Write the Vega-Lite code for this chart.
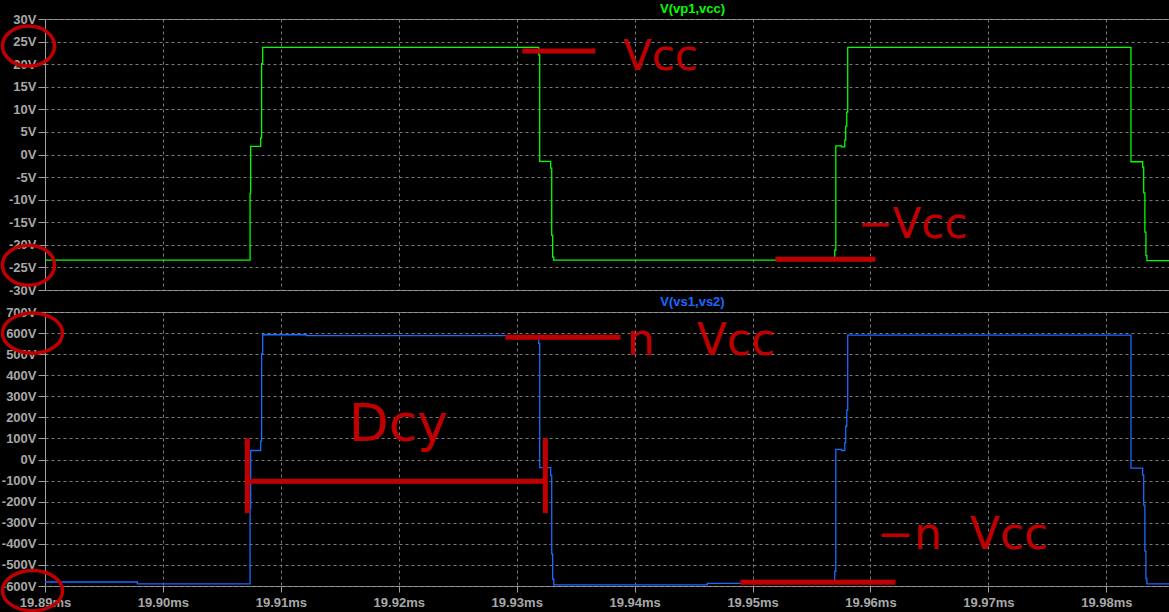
{
  "$schema": "https://vega.github.io/schema/vega-lite/v6.json",
  "background": "#000000",
  "padding": {"left": 0, "top": 2, "right": 0, "bottom": 0},
  "config": {
    "view": {"stroke": "#a0a0a0", "strokeWidth": 1},
    "axis": {
      "labelColor": "#a8a8a8",
      "labelFont": "Liberation Sans",
      "labelFontWeight": "bold",
      "labelFontSize": 13,
      "tickColor": "#a0a0a0",
      "domainColor": "#a0a0a0",
      "gridColor": "#7a7a7a",
      "gridDash": [3, 3],
      "gridWidth": 1,
      "title": null,
      "labelOverlap": false,
      "labelFlush": false
    },
    "title": {"font": "Liberation Sans", "fontSize": 13, "fontWeight": "bold", "anchor": "middle", "frame": "group"}
  },
  "datasets": {
    "vp": [
      {"t": 19.89, "v": -23.4},
      {"t": 19.90739, "v": -8.6},
      {"t": 19.90744, "v": 1.8},
      {"t": 19.90829, "v": 3.7},
      {"t": 19.90837, "v": 20.1},
      {"t": 19.90846, "v": 23.7},
      {"t": 19.93187, "v": 22.0},
      {"t": 19.93195, "v": -1.5},
      {"t": 19.93288, "v": -3.0},
      {"t": 19.93297, "v": -17.9},
      {"t": 19.93305, "v": -22.7},
      {"t": 19.93314, "v": -23.4},
      {"t": 19.95697, "v": -21.2},
      {"t": 19.95706, "v": 1.9},
      {"t": 19.95754, "v": 1.7},
      {"t": 19.95782, "v": 3.2},
      {"t": 19.9579, "v": 6.3},
      {"t": 19.95799, "v": 9.4},
      {"t": 19.95807, "v": 23.7},
      {"t": 19.98209, "v": -1.6},
      {"t": 19.98308, "v": -2.8},
      {"t": 19.98317, "v": -8.5},
      {"t": 19.98327, "v": -17.2},
      {"t": 19.98336, "v": -22.4},
      {"t": 19.98344, "v": -23.5},
      {"t": 19.9854, "v": -23.5}
    ],
    "vs": [
      {"t": 19.89, "v": -581},
      {"t": 19.89783, "v": -590},
      {"t": 19.90739, "v": -230},
      {"t": 19.90744, "v": 43},
      {"t": 19.90829, "v": 87},
      {"t": 19.90837, "v": 502},
      {"t": 19.90846, "v": 592},
      {"t": 19.91216, "v": 588},
      {"t": 19.93187, "v": 550},
      {"t": 19.93195, "v": -38},
      {"t": 19.93288, "v": -75},
      {"t": 19.93297, "v": -448},
      {"t": 19.93305, "v": -568},
      {"t": 19.93314, "v": -595},
      {"t": 19.94617, "v": -588},
      {"t": 19.95697, "v": -530},
      {"t": 19.95706, "v": 48},
      {"t": 19.95754, "v": 43},
      {"t": 19.95782, "v": 80},
      {"t": 19.9579, "v": 158},
      {"t": 19.95799, "v": 235},
      {"t": 19.95807, "v": 590},
      {"t": 19.98209, "v": -41},
      {"t": 19.98308, "v": -74},
      {"t": 19.98317, "v": -216},
      {"t": 19.98327, "v": -435},
      {"t": 19.98336, "v": -565},
      {"t": 19.98344, "v": -590},
      {"t": 19.9854, "v": -590}
    ],
    "ellTop": [
      {"t": 19.888601, "v": 24.0},
      {"t": 19.888601, "v": -24.5}
    ],
    "ellBot": [
      {"t": 19.88894, "v": 600},
      {"t": 19.88894, "v": -622}
    ],
    "hTop": [
      {"t": 19.93048, "t2": 19.93667, "v": 22.9},
      {"t": 19.95194, "t2": 19.96042, "v": -23.2}
    ],
    "hBot": [
      {"t": 19.92904, "t2": 19.9388, "v": 580},
      {"t": 19.94897, "t2": 19.96212, "v": -582},
      {"t": 19.90716, "t2": 19.93243, "v": -103}
    ],
    "vBot": [
      {"t": 19.90716, "v": 101, "v2": -254},
      {"t": 19.93243, "v": 101, "v2": -254}
    ],
    "txtTop": [
      {"t": 19.94219, "v": 21.6, "label": "Vcc"},
      {"t": 19.96356, "v": -15.6, "label": "−Vcc"}
    ],
    "txtBot": [
      {"t": 19.94563, "v": 560, "label": "n\u00a0\u00a0\u00a0Vcc"},
      {"t": 19.96782, "v": -364, "label": "−n\u00a0\u00a0Vcc"}
    ],
    "txtDcy": [
      {"t": 19.91997, "v": 164, "label": "Dcy"}
    ]
  },
  "bounds": "flush",
  "spacing": 22,
  "vconcat": [
    {
      "width": 1125,
      "height": 271,
      "title": {"text": "V(vp1,vcc)", "color": "#00ff00", "dx": 85, "offset": -3},
      "encoding": {
        "x": {
          "field": "t", "type": "quantitative",
          "scale": {"domain": [19.89, 19.9854], "nice": false, "zero": false},
          "axis": {"values": [19.89, 19.9, 19.91, 19.92, 19.93, 19.94, 19.95, 19.96, 19.97, 19.98], "labels": false, "ticks": false, "domain": false, "grid": true}
        },
        "y": {
          "field": "v", "type": "quantitative",
          "scale": {"domain": [-30, 30], "nice": false, "zero": false},
          "axis": {"values": [-30, -25, -20, -15, -10, -5, 0, 5, 10, 15, 20, 25, 30], "labelExpr": "datum.value + 'V'", "tickSize": 7, "labelPadding": 2, "grid": true}
        }
      },
      "layer": [
        {"data": {"name": "vp"}, "mark": {"type": "line", "interpolate": "step-after", "color": "#00ff00", "strokeWidth": 1.3}},
        {"data": {"name": "ellTop"}, "mark": {"type": "point", "shape": "M-1,0A1,0.77,0,1,1,1,0A1,0.77,0,1,1,-1,0Z", "filled": false, "color": "#c00000", "strokeWidth": 3.5, "strokeJoin": "round", "size": 2704, "opacity": 1}},
        {"data": {"name": "hTop"}, "mark": {"type": "rule", "color": "#c00000", "strokeWidth": 5}, "encoding": {"x2": {"field": "t2"}}},
        {"data": {"name": "txtTop"}, "mark": {"type": "text", "color": "#c00000", "font": "DejaVu Sans", "fontSize": 42}, "encoding": {"text": {"field": "label"}}}
      ]
    },
    {
      "width": 1125,
      "height": 274,
      "title": {"text": "V(vs1,vs2)", "color": "#1a6aff", "dx": 85, "offset": -3},
      "encoding": {
        "x": {
          "field": "t", "type": "quantitative",
          "scale": {"domain": [19.89, 19.9854], "nice": false, "zero": false},
          "axis": {"values": [19.89, 19.9, 19.91, 19.92, 19.93, 19.94, 19.95, 19.96, 19.97, 19.98], "labelExpr": "format(datum.value, '.2f') + 'ms'", "tickSize": 6, "labelPadding": 4, "grid": true, "domain": false}
        },
        "y": {
          "field": "v", "type": "quantitative",
          "scale": {"domain": [-600, 700], "nice": false, "zero": false},
          "axis": {"values": [-600, -500, -400, -300, -200, -100, 0, 100, 200, 300, 400, 500, 600, 700], "labelExpr": "datum.value + 'V'", "tickSize": 7, "labelPadding": 2, "grid": true}
        }
      },
      "layer": [
        {"data": {"name": "vs"}, "mark": {"type": "line", "interpolate": "step-after", "color": "#1a6aff", "strokeWidth": 1.3}},
        {"data": {"name": "ellBot"}, "mark": {"type": "point", "shape": "M-1,0A1,0.67,0,1,1,1,0A1,0.67,0,1,1,-1,0Z", "filled": false, "color": "#c00000", "strokeWidth": 3.5, "strokeJoin": "round", "size": 3600, "opacity": 1}},
        {"data": {"name": "hBot"}, "mark": {"type": "rule", "color": "#c00000", "strokeWidth": 5}, "encoding": {"x2": {"field": "t2"}}},
        {"data": {"name": "vBot"}, "mark": {"type": "rule", "color": "#c00000", "strokeWidth": 5}, "encoding": {"y2": {"field": "v2"}}},
        {"data": {"name": "txtBot"}, "mark": {"type": "text", "color": "#c00000", "font": "DejaVu Sans", "fontSize": 44}, "encoding": {"text": {"field": "label"}}},
        {"data": {"name": "txtDcy"}, "mark": {"type": "text", "color": "#c00000", "font": "DejaVu Sans", "fontSize": 52}, "encoding": {"text": {"field": "label"}}}
      ]
    }
  ]
}
